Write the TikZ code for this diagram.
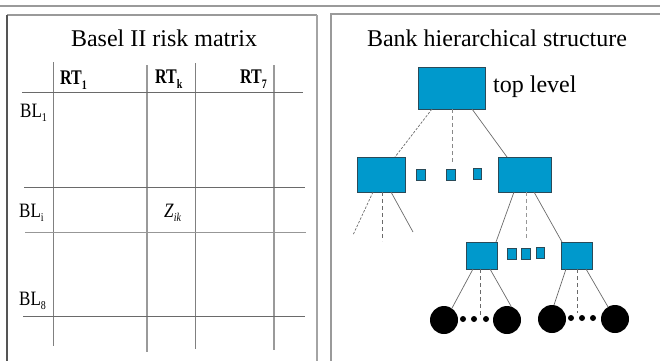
\documentclass[tikz,border=0pt]{standalone}
\usepackage{fontspec}
\setmainfont{Liberation Serif}
\usepackage{graphicx}
% lowered small subscript used in the matrix labels
\newcommand{\lsub}[1]{\raisebox{-4pt}{\fontsize{10}{10}\selectfont #1}}
\definecolor{boxfill}{HTML}{0099CC}
\definecolor{boxedge}{HTML}{2A4A58}
\definecolor{linegray}{HTML}{6A6A6A}
\definecolor{framegray}{HTML}{9A9A9A}
\begin{document}
\begin{tikzpicture}[x=1pt,y=-1pt,
  title/.style={anchor=base, inner sep=0, font=\fontsize{24}{28}\selectfont},
  lab/.style={anchor=base west, inner sep=0, font=\fontsize{17}{17}\selectfont},
  hdr/.style={anchor=base west, inner sep=0, font=\fontsize{16}{16}\selectfont\bfseries},
  gridv/.style={draw=linegray!85, line width=1.2pt},
  gridh/.style={draw=linegray, line width=0.9pt},
  box/.style={draw=boxedge, fill=boxfill, line width=0.9pt, inner sep=0, outer sep=0},
  leaf/.style={circle, fill=black, inner sep=0, outer sep=0, minimum size=28pt},
  dot/.style={circle, fill=black, inner sep=0, outer sep=0, minimum size=6pt},
  link/.style={draw=linegray, line width=0.7pt},
  dlink/.style={link, dash pattern=on 4pt off 3pt},
  flink/.style={link, dash pattern=on 2.5pt off 1.5pt}]
\useasboundingbox (0,0) rectangle (660,360);

% rule across the top and the two panel frames
\draw[framegray, line width=1.8pt] (0,6) -- (660,6);
\draw[framegray, line width=1.5pt] (7,15) -- (317,15);
\draw[framegray!90, line width=2pt] (317,15) -- (317,362);
\draw[linegray!80!black, line width=2pt] (7,15) -- (7,362);
\draw[framegray, line width=1.5pt] (331,362) -- (331,14) -- (662,14);

% ---------------- left panel: risk matrix ----------------
\node[title] (ltitle) at (164,46.5) {Basel II risk matrix};

\draw[gridv] (53.5,62) -- (53.5,346);
\draw[gridv, draw=framegray] (147,65) -- (147,352);
\draw[gridv] (195.5,63) -- (195.5,349);
\draw[gridv, draw=framegray, line width=2pt] (274,65) -- (274,350);

\draw[gridh] (22,92) -- (303,92);
\draw[gridh] (24,187) -- (305,187);
\draw[gridh, draw=linegray!70] (25,232) -- (306,232);
\draw[gridh] (23,316) -- (305,316);

\node[hdr] (rt1) at (60,84) {\scalebox{1}[1.3]{RT\lsub{1}}};
\node[hdr] (rtk) at (155,83) {\scalebox{1}[1.3]{RT\lsub{k}}};
\node[hdr] (rt7) at (240,83) {\scalebox{1}[1.3]{RT\lsub{7}}};
\node[lab] (bl1) at (20,117) {\scalebox{1}[1.2]{BL\lsub{1}}};
\node[lab] (bli) at (19,217) {\scalebox{1}[1.2]{BL\lsub{i}}};
\node[lab] (bl8) at (19,305) {\scalebox{1}[1.2]{BL\lsub{8}}};
\node[lab] (zik) at (164,217) {\scalebox{1}[1.2]{\textit{Z}\lsub{\textit{ik}}}};

% ---------------- right panel: hierarchy ----------------
\node[title] (rtitle) at (497,46.5) {Bank hierarchical structure};

\node[box, minimum width=67pt, minimum height=42pt] (top) at (451.5,88) {};
\node[anchor=base west, inner sep=0, font=\fontsize{24}{28}\selectfont] (toplab) at (493,92) {top level};

\node[box, minimum width=48pt, minimum height=35pt] (b2l) at (381,174.5) {};
\node[box, minimum width=53pt, minimum height=35pt] (b2r) at (524.5,174.5) {};
\node[box, minimum width=9pt, minimum height=11pt] (s1) at (420.5,174.5) {};
\node[box, minimum width=9pt, minimum height=11pt] (s2) at (450.5,174.5) {};
\node[box, minimum width=8pt, minimum height=11pt] (s3) at (477,173.5) {};

\node[box, minimum width=31pt, minimum height=27pt] (b3l) at (481.5,255.5) {};
\node[box, minimum width=31pt, minimum height=27pt] (b3r) at (576.5,255.5) {};
\node[box, minimum width=9pt, minimum height=11pt] (t1) at (511.5,253.5) {};
\node[box, minimum width=9pt, minimum height=11pt] (t2) at (525.5,253.5) {};
\node[box, minimum width=8pt, minimum height=11pt] (t3) at (540,252.5) {};

\node[leaf] (c1) at (444,320) {};
\node[leaf] (c2) at (507,320) {};
\node[leaf] (c3) at (552,319) {};
\node[leaf] (c4) at (615,319) {};
\node[dot] (d1) at (463,319) {};
\node[dot] (d2) at (474,319) {};
\node[dot] (d3) at (486,319) {};
\node[dot] (d4) at (571,318) {};
\node[dot] (d5) at (582,318) {};
\node[dot] (d6) at (593,318) {};

% free ends of the open branches
\coordinate (m1) at (452,163);
\coordinate (la) at (353,235);
\coordinate (lb) at (382,241);
\coordinate (lc) at (413,232);
\coordinate (m2) at (526,240);
\coordinate (m3) at (480,315);
\coordinate (m4) at (577,313);

% top level to second level
\draw[flink] ([xshift=-19.5pt]top.south) -- ([xshift=-10pt]b2l.north east);
\draw[dlink, line width=1pt, draw=linegray!80] ([xshift=0.5pt]top.south) -- (m1);
\draw[link] ([xshift=20.5pt]top.south) -- ([xshift=9pt]b2r.north west);

% branches under the left second-level unit
\draw[flink] ([xshift=-8pt]b2l.south) -- (la);
\draw[dlink] ([xshift=1pt]b2l.south) -- (lb);
\draw[link] ([xshift=10pt]b2l.south) -- (lc);

% branches under the right second-level unit
\draw[link] ([xshift=-10.5pt]b2r.south) -- ([xshift=-1pt]b3l.north east);
\draw[dlink, draw=linegray!70] ([xshift=1.5pt]b2r.south) -- (m2);
\draw[link] ([xshift=9.5pt]b2r.south) -- ([xshift=1pt]b3r.north west);

% third level to the leaves
\draw[link] ([xshift=-8.5pt]b3l.south) -- (c1.56);
\draw[dlink] ([xshift=-1.5pt]b3l.south) -- (m3);
\draw[link] ([xshift=8.5pt]b3l.south) -- (c2.72);
\draw[link] ([xshift=-10.5pt]b3r.south) -- (c3.82);
\draw[dlink] ([xshift=0.5pt]b3r.south) -- (m4);
\draw[link] ([xshift=9.5pt]b3r.south) -- (c4.120);
\end{tikzpicture}
\end{document}
